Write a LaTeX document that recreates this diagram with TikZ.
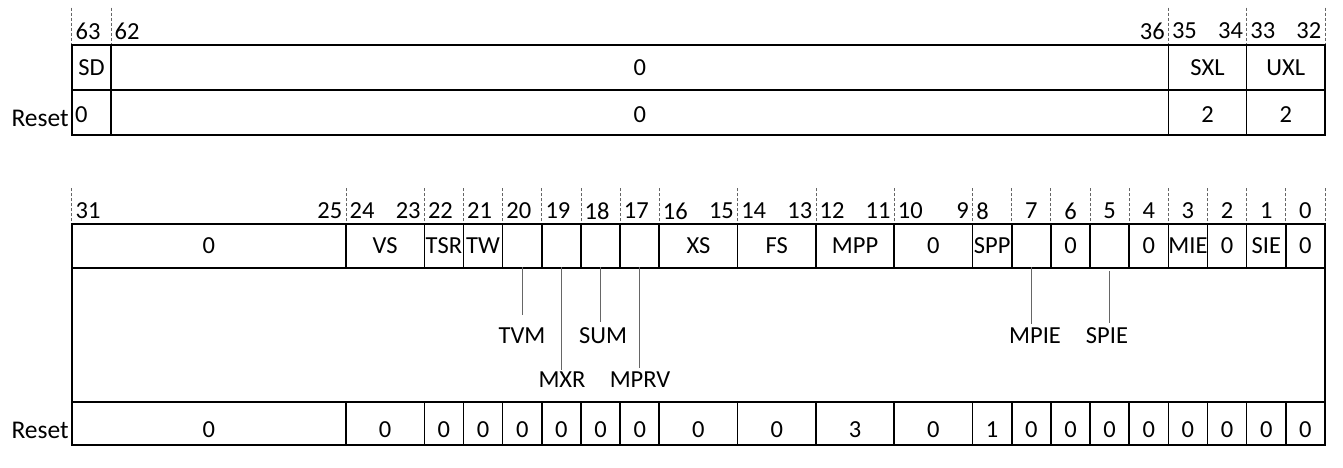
\documentclass[tikz,border=0pt]{standalone}
\usepackage{fontspec}
\setmainfont{Carlito}
\usetikzlibrary{positioning}

\begin{document}
\begin{tikzpicture}[x=1pt,y=-1pt,line cap=rect]
  \tikzset{
    field/.style={draw=black, line width=1.6pt, anchor=north west, inner sep=0pt, outer sep=0pt,
      font=\fontsize{24.5}{28}\selectfont},
    resetval/.style={field, text height=#1, text depth=0pt},
    bitno/.style={inner sep=0pt, font=\fontsize{24.5}{28}\selectfont},
    tick/.style={draw=black!60, line width=0.8pt, dash pattern=on 3pt off 2pt},
    leader/.style={draw=black!60, line width=1.2pt},
    note/.style={inner sep=0pt, font=\fontsize{24.5}{28}\selectfont},
  }
  \useasboundingbox (0,0) rectangle (1343,468);

  %% upper word, bits 63..32
  \foreach \k in {32,31,4,2,0}  % boundaries
    \draw[tick] ({1325-\k*39.16},8) -- ({1325-\k*39.16},45);
  \foreach \hi/\lo/\txt in {63/63/SD, 62/36/0, 35/34/SXL, 33/32/UXL}
    \node[field, minimum width={(\hi-\lo+1)*39.16pt}, minimum height=45pt]
      (f\hi) at ({1325-(\hi-31)*39.16},45) {\txt};
  \foreach \hi/\lo/\txt in {63/63/, 62/36/0, 35/34/2, 33/32/2}
    \node[resetval=19pt, minimum width={(\hi-\lo+1)*39.16pt}, minimum height=45pt]
      (r\hi) at ({1325-(\hi-31)*39.16},90) {\txt};
  \node[bitno, anchor=west] (r63v) at ([xshift=3pt,yshift=-2.5pt]r63.west) {0};
  \node[bitno, font=\fontsize{25.5}{29}\selectfont, anchor=east] (hireset)
    at ([xshift=-3pt,yshift=-6pt]r63.west) {Reset};

  % bit numbers
  \foreach \b in {63,62,35,33}
    \node[bitno, anchor=west] (n\b) at ({1325-(\b-31)*39.16+3.5},31) {\b};
  \foreach \b in {36,34,32}
    \node[bitno, anchor=east] (n\b) at ({1325-(\b-32)*39.16-3.5},31) {\b};

  %% lower word, bits 31..0
  \foreach \k in {32,25,23,22,21,20,19,18,17,15,13,11,9,8,7,6,5,4,3,2,1,0}
    \draw[tick] ({1325-\k*39.16},188) -- ({1325-\k*39.16},224);
  \foreach \hi/\lo/\txt in {31/25/0, 24/23/VS, 22/22/TSR, 21/21/TW, 20/20/, 19/19/, 18/18/,
      17/17/, 16/15/XS, 14/13/FS, 12/11/MPP, 10/9/0, 8/8/SPP, 7/7/, 6/6/0, 5/5/, 4/4/0,
      3/3/MIE, 2/2/0, 1/1/SIE, 0/0/0}
    \node[field, minimum width={(\hi-\lo+1)*39.16pt}, minimum height=44pt]
      (f\hi) at ({1325-(\hi+1)*39.16},224) {\txt};
  \foreach \hi/\lo/\txt in {31/25/0, 24/23/0, 22/22/0, 21/21/0, 20/20/0, 19/19/0, 18/18/0,
      17/17/0, 16/15/0, 14/13/0, 12/11/3, 10/9/0, 8/8/1, 7/7/0, 6/6/0, 5/5/0, 4/4/0,
      3/3/0, 2/2/0, 1/1/0, 0/0/0}
    \node[resetval=27pt, minimum width={(\hi-\lo+1)*39.16pt}, minimum height=43pt]
      (r\hi) at ({1325-(\hi+1)*39.16},402) {\txt};
  \node[bitno, font=\fontsize{25.5}{29}\selectfont, anchor=east] (loreset)
    at ([xshift=-3pt,yshift=-6.5pt]r31.west) {Reset};

  % side walls of the note area
  \draw[line width=1.6pt] (f31.south west) -- (r31.north west);
  \draw[line width=1.6pt] (f0.south east) -- (r0.north east);

  % bit numbers
  \foreach \b in {31,24,22,21,20,19,18,17,16,14,12,10,8}
    \node[bitno, anchor=west] (n\b) at ({1325-(\b+1)*39.16+3.5},211) {\b};
  \foreach \b in {25,23,15,13,11,9}
    \node[bitno, anchor=east] (n\b) at ({1325-\b*39.16-3.5},211) {\b};
  \foreach \b in {7,6,5,4,3,2,1,0}
    \node[bitno] (n\b) at ({1325-(\b+0.5)*39.16},211) {\b};

  %% single-bit names below the word
  \foreach \f/\txt/\lx/\ly/\sa/\sb in {20/TVM/522/335.5/0pt/13pt, 19/MXR/562/380/0pt/3pt,
      18/SUM/603/335.5/0pt/6pt, 17/MPRV/640/380/0pt/5pt,
      7/MPIE/1035/335.5/0pt/4pt, 5/SPIE/1107/335.5/4pt/5pt}{
    \node[note] (l\f) at (\lx,\ly) {\txt};
    \draw[leader, shorten <=\sa, shorten >=\sb] (f\f.south) -- (f\f.south |- l\f.north);
  }
\end{tikzpicture}
\end{document}
